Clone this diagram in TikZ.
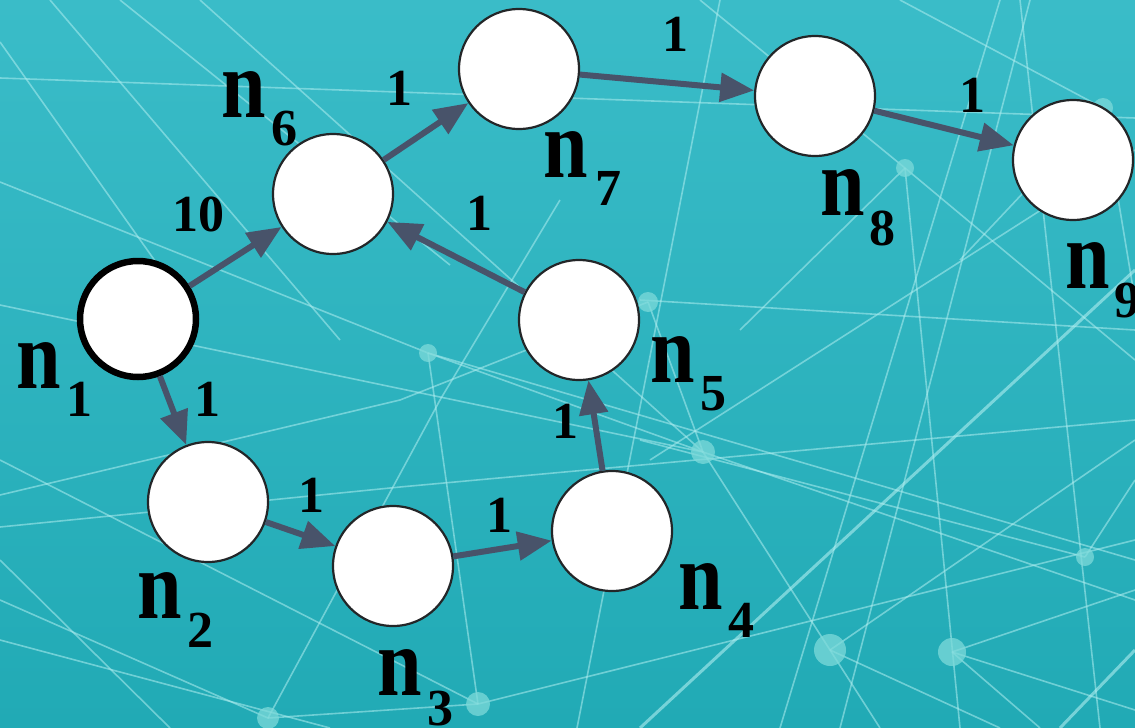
\documentclass[tikz,border=0pt]{standalone}
\usepackage{fontspec}
\setmainfont{Liberation Serif}
\usetikzlibrary{arrows.meta}
\definecolor{bgtop}{RGB}{58,188,200}
\definecolor{bgbot}{RGB}{33,170,181}
\definecolor{webline}{RGB}{175,238,240}
\definecolor{webdot}{RGB}{125,218,218}
\definecolor{edgecol}{RGB}{72,83,106}
\definecolor{rimcol}{RGB}{35,38,40}
\tikzset{
  web/.style={draw=webline, line width=1.6pt, opacity=0.55},
  webbold/.style={web, line width=3pt, opacity=0.6},
  webdotst/.style={fill=webdot, opacity=0.75},
  vertex/.style={circle, fill=white, draw=rimcol, line width=2.2pt, minimum size=120pt, inner sep=0pt},
  source/.style={vertex, draw=black, line width=6.5pt, minimum size=116pt},
  edge/.style={draw=edgecol, line width=6pt, -{Triangle[length=34pt,width=28pt]}},
  nname/.style={anchor=base west, inner sep=0pt, font=\fontsize{80}{80}\selectfont\bfseries},
  nsub/.style={anchor=base west, inner sep=0pt, font=\fontsize{52}{52}\selectfont\bfseries},
  weight/.style={inner sep=0pt, font=\fontsize{52}{52}\selectfont\bfseries}
}
\newcommand{\tallN}{\scalebox{1}[1.22]{n}}
\begin{document}
\begin{tikzpicture}[x=1pt, y=-1pt]
\useasboundingbox (0,0) rectangle (1135,728);
\shade[top color=bgtop, bottom color=bgbot] (0,0) rectangle (1135,728);

% network texture behind the graph
\begin{scope}
\clip (0,0) rectangle (1135,728);
\draw[web] (0,78) -- (1135,118);
\draw[web] (0,42) -- (165,275);
\draw[web] (50,0) -- (340,340);
\draw[web] (120,0) -- (450,265);
\draw[web] (200,0) -- (703,452);
\draw[web] (0,182) -- (428,353) -- (1135,560);
\draw[web] (0,305) -- (703,452);
\draw[web] (0,495) -- (400,400) -- (648,302);
\draw[web] (0,527) -- (400,487) -- (1135,420);
\draw[web] (0,460) -- (478,704);
\draw[web] (0,560) -- (170,728);
\draw[web] (0,600) -- (268,718) -- (478,704);
\draw[web] (0,640) -- (330,728);
\draw[web] (648,302) -- (703,452) -- (830,650) -- (880,728);
\draw[web] (428,353) -- (478,704);
\draw[web] (428,353) -- (703,452);
\draw[web] (268,718) -- (440,400) -- (560,200);
\draw[web] (577,728) -- (720,0);
\draw[webbold] (640,728) -- (1135,270);
\draw[web] (780,728) -- (1000,0);
\draw[web] (840,728) -- (1030,0);
\draw[web] (1020,0) -- (1100,728);
\draw[web] (905,168) -- (1135,360);
\draw[web] (905,168) -- (960,728);
\draw[web] (905,168) -- (740,330);
\draw[web] (905,168) -- (700,0);
\draw[web] (1085,557) -- (640,440);
\draw[web] (1085,557) -- (1135,480);
\draw[web] (952,652) -- (1135,590);
\draw[web] (952,652) -- (1135,710);
\draw[web] (952,652) -- (1040,728);
\draw[web] (830,650) -- (1135,440);
\draw[web] (830,650) -- (1000,728);
\draw[web] (1135,150) -- (900,300) -- (650,460);
\draw[web] (1103,108) -- (900,0);
\draw[web] (1103,108) -- (1135,300);
\draw[web] (1103,108) -- (960,260);
\draw[web] (640,300) -- (1135,330);
\draw[web] (703,452) -- (1135,600);
\draw[webbold] (1060,728) -- (1135,650);
\draw[web] (478,704) -- (1135,540);
\fill[webdotst] (428,353) circle (9);
\fill[webdotst] (648,302) circle (10);
\fill[webdotst] (703,452) circle (12);
\fill[webdotst] (905,168) circle (9);
\fill[webdotst] (1085,557) circle (9);
\fill[webdotst] (830,650) circle (16);
\fill[webdotst] (952,652) circle (14);
\fill[webdotst] (268,718) circle (11);
\fill[webdotst] (478,704) circle (12);
\fill[webdotst] (1103,108) circle (10);
\end{scope}

% vertices
\node[source] (n1) at (138,319) {};
\node[vertex] (n2) at (208,502) {};
\node[vertex] (n3) at (393,566) {};
\node[vertex] (n4) at (612,531) {};
\node[vertex] (n5) at (579,320) {};
\node[vertex] (n6) at (333,194) {};
\node[vertex] (n7) at (519,69) {};
\node[vertex] (n8) at (815,96) {};
\node[vertex] (n9) at (1073,160) {};

% weighted edges
\draw[edge] (n1) -- (n2);
\draw[edge] (n1) -- (n6);
\draw[edge] (n2) -- (n3);
\draw[edge] (n3) -- (n4);
\draw[edge] (n4) -- (n5);
\draw[edge] (n5) -- (n6);
\draw[edge] (n6) -- (n7);
\draw[edge] (n7) -- (n8);
\draw[edge] (n8) -- (n9);

\node[weight] (w12) at (207,399) {1};
\node[weight] (w16) at (198,214) {10};
\node[weight] (w23) at (311,495) {1};
\node[weight] (w34) at (499,515) {1};
\node[weight] (w45) at (565,421) {1};
\node[weight] (w56) at (479,213) {1};
\node[weight] (w67) at (399,88) {1};
\node[weight] (w78) at (675,34) {1};
\node[weight] (w89) at (972,95) {1};

% vertex names
\node[nname] (l1) at (16,388) {\tallN};
\node[nsub]  (s1) at (66,416) {1};
\node[nname] (l2) at (137,618) {\tallN};
\node[nsub]  (s2) at (187,647) {2};
\node[nname] (l3) at (377,695) {\tallN};
\node[nsub]  (s3) at (427,725) {3};
\node[nname] (l4) at (678,609) {\tallN};
\node[nsub]  (s4) at (728,637) {4};
\node[nname] (l5) at (650,382) {\tallN};
\node[nsub]  (s5) at (700,410) {5};
\node[nname] (l6) at (221,117) {\tallN};
\node[nsub]  (s6) at (271,145) {6};
\node[nname] (l7) at (543,177) {\tallN};
\node[nsub]  (s7) at (595,205) {7};
\node[nname] (l8) at (820,215) {\tallN};
\node[nsub]  (s8) at (869,245) {8};
\node[nname] (l9) at (1065,288) {\tallN};
\node[nsub]  (s9) at (1114,317) {9};
\end{tikzpicture}
\end{document}
